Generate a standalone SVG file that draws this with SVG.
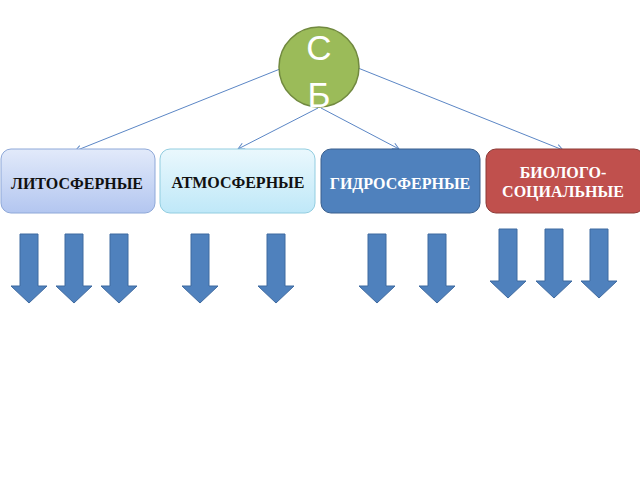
<svg xmlns="http://www.w3.org/2000/svg" width="640" height="480" viewBox="0 0 640 480">
<style>
.lbl{font-family:"Liberation Serif","Times New Roman",serif;font-weight:bold;font-size:16px;text-anchor:middle}
.dark{fill:#111}
.light{fill:#fff}
.conn{stroke:#5b86c5;stroke-width:1;fill:none}
.barrow{fill:#4f81bd;stroke:#3f6aa0;stroke-width:1}
</style>
<defs>
<linearGradient id="g1" x1="0" y1="0" x2="0" y2="1">
<stop offset="0" stop-color="#e2eafa"/><stop offset="1" stop-color="#b3c6f0"/>
</linearGradient>
<linearGradient id="g2" x1="0" y1="0" x2="0" y2="1">
<stop offset="0" stop-color="#eaf8fd"/><stop offset="1" stop-color="#bfe8f8"/>
</linearGradient>
<marker id="ah" viewBox="0 0 10 10" refX="9" refY="5" markerWidth="8" markerHeight="8" orient="auto" markerUnits="userSpaceOnUse">
<path d="M1,1 L9,5 L1,9" fill="none" stroke="#5b86c5" stroke-width="1.2"/>
</marker>
<path id="da" d="M-9,0 H9 V52 H18 L0,69 L-18,52 H-9 Z"/>
</defs>
<rect width="640" height="480" fill="#fff"/>
<g id="connectors">
<line class="conn" x1="280" y1="69" x2="75" y2="151" marker-end="url(#ah)"/>
<line class="conn" x1="318" y1="108" x2="238" y2="149" marker-end="url(#ah)"/>
<line class="conn" x1="321" y1="108" x2="399" y2="149" marker-end="url(#ah)"/>
<line class="conn" x1="358" y1="68" x2="563" y2="150" marker-end="url(#ah)"/>
</g>
<g id="root">
<circle cx="319" cy="67" r="40" fill="#9bbb59" stroke="#71893f" stroke-width="1.5"/>
<text x="319" y="60" font-family="Liberation Sans,Arial,sans-serif" font-size="35" fill="#fff" text-anchor="middle">С</text>
<text x="319" y="107" font-family="Liberation Sans,Arial,sans-serif" font-size="35" fill="#fff" text-anchor="middle">Б</text>
</g>
<g id="litho">
<rect x="1" y="149" width="154" height="64" rx="10" fill="url(#g1)" stroke="#8ea8d8" stroke-width="1"/>
<text class="lbl dark" x="77" y="189">ЛИТОСФЕРНЫЕ</text>
</g>
<g id="atmo">
<rect x="160" y="149" width="155" height="64" rx="10" fill="url(#g2)" stroke="#92cde0" stroke-width="1"/>
<text class="lbl dark" x="238" y="188">АТМОСФЕРНЫЕ</text>
</g>
<g id="hydro">
<rect x="321" y="149" width="159" height="64" rx="10" fill="#4f81bd" stroke="#3a5f8d" stroke-width="1"/>
<text class="lbl light" x="400" y="189">ГИДРОСФЕРНЫЕ</text>
</g>
<g id="bio">
<rect x="486" y="149" width="158" height="64" rx="10" fill="#c0504d" stroke="#8c3a37" stroke-width="1"/>
<text class="lbl light" x="563" y="178">БИОЛОГО-</text>
<text class="lbl light" x="563" y="197">СОЦИАЛЬНЫЕ</text>
</g>
<g id="down-arrows">
<use href="#da" class="barrow" x="29" y="234"/>
<use href="#da" class="barrow" x="74" y="234"/>
<use href="#da" class="barrow" x="119" y="234"/>
<use href="#da" class="barrow" x="200" y="234"/>
<use href="#da" class="barrow" x="276" y="234"/>
<use href="#da" class="barrow" x="377" y="234"/>
<use href="#da" class="barrow" x="437" y="234"/>
<use href="#da" class="barrow" x="508" y="229"/>
<use href="#da" class="barrow" x="554" y="229"/>
<use href="#da" class="barrow" x="599" y="229"/>
</g>
</svg>
